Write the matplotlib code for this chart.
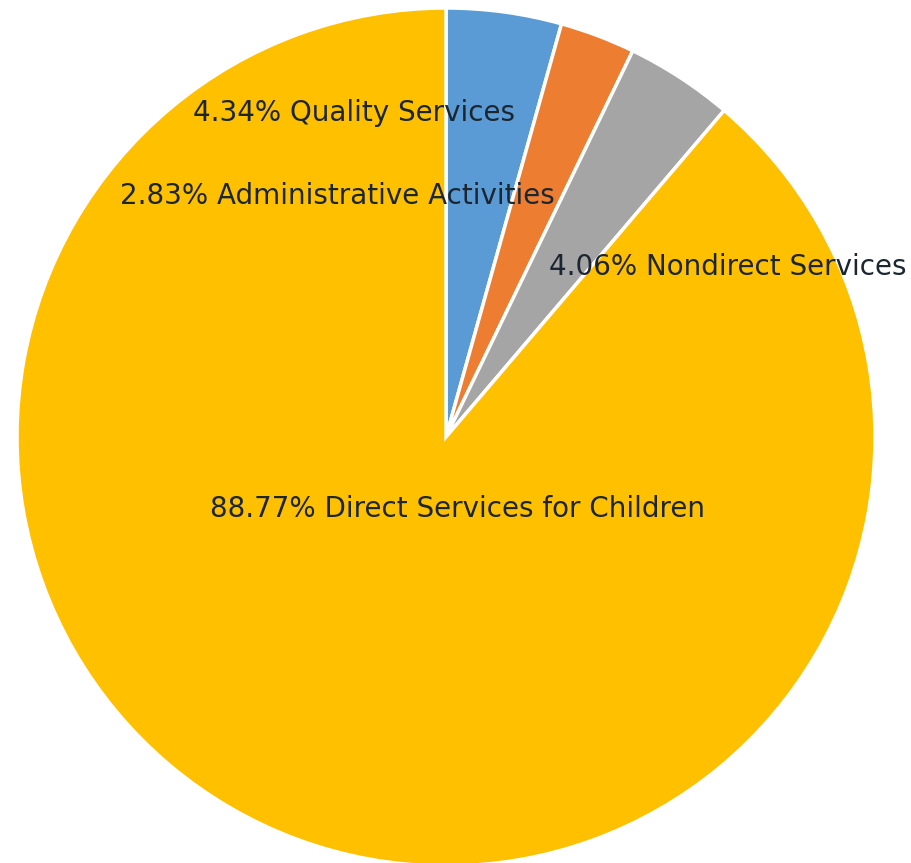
import matplotlib.pyplot as plt

categories = ["Quality Services", "Administrative Activities",
              "Nondirect Services", "Direct Services for Children"]
shares = [4.34, 2.83, 4.06, 88.77]
colors = ["#5B9BD5", "#ED7D31", "#A5A5A5", "#FFC000"]

# label centres in pixels of the original picture
label_px = [(354, 113), (337, 196), (728, 267), (458, 509)]

W, H = 912, 863
cx, cy, R = 446, 437, 429

fig = plt.figure(figsize=(W / 100, H / 100), dpi=100)
ax = fig.add_axes([0, 0, 1, 1])
ax.pie(shares, colors=colors, startangle=90, counterclock=False,
       radius=1, wedgeprops=dict(edgecolor="white", linewidth=2.5))
ax.set_xlim(-cx / R, (W - cx) / R)
ax.set_ylim((cy - H) / R, cy / R)
ax.set_aspect("equal")
ax.axis("off")

for name, val, (px, py) in zip(categories, shares, label_px):
    ax.text((px - cx) / R, (cy - py) / R, f"{val:.2f}% {name}",
            ha="center", va="center", fontsize=20, color="#1c2630")

fig.savefig("out.png", dpi=100)
